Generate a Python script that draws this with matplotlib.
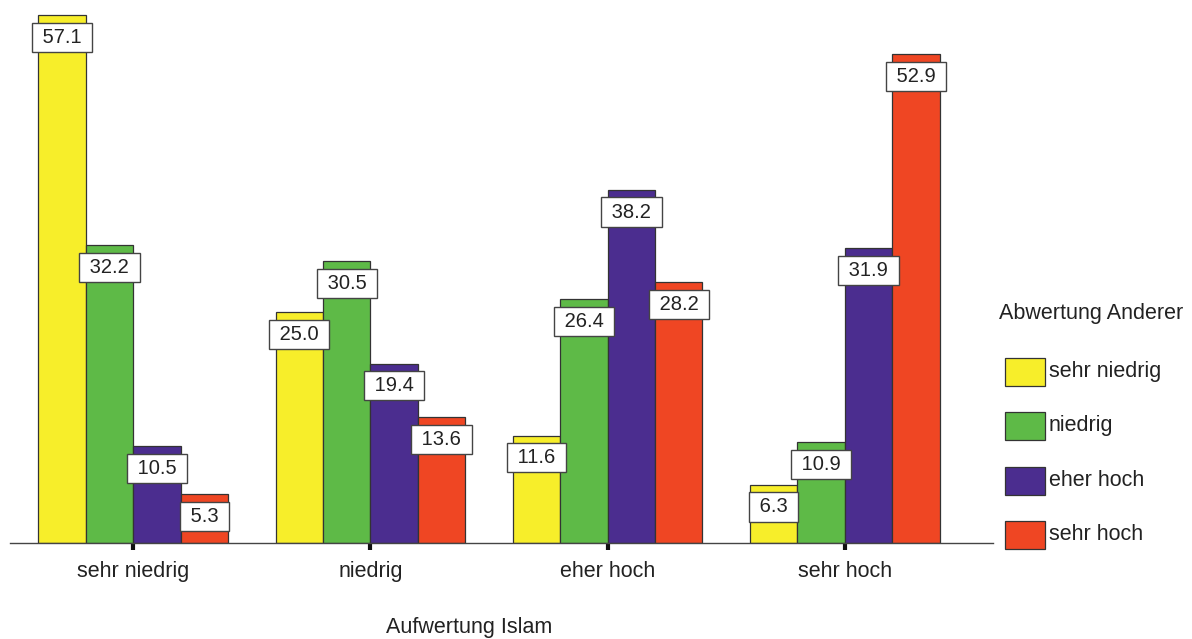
# Aufwertung Islam vs. Abwertung Anderer - grouped bars with value boxes

import matplotlib.pyplot as plt
from matplotlib.patches import Rectangle
import numpy as np

plt.rcParams['font.family'] = ['Liberation Sans', 'DejaVu Sans']

# Data
groups = ["sehr niedrig", "niedrig", "eher hoch", "sehr hoch"]
series_names = ["sehr niedrig", "niedrig", "eher hoch", "sehr hoch"]
sehr_niedrig = [57.1, 25.0, 11.6, 6.3]
niedrig = [32.2, 30.5, 26.4, 10.9]
eher_hoch = [10.5, 19.4, 38.2, 31.9]
sehr_hoch = [5.3, 13.6, 28.2, 52.9]
colors = ["#F7EE2A", "#5EBA47", "#4B2D8F", "#EF4623"]

W, H = 1192, 639
fig = plt.figure(figsize=(W / 100, H / 100), dpi=100)
ax = fig.add_axes([10 / W, 1 - 543 / H, (993 - 10) / W, (543 - 6.7) / H])

x = np.arange(len(groups))
width = 0.2
all_series = [sehr_niedrig, niedrig, eher_hoch, sehr_hoch]
for i, (vals, col) in enumerate(zip(all_series, colors)):
    pos = x + (i - 1.5) * width
    ax.bar(pos, vals, width, color=col, edgecolor="#333333", linewidth=0.9, zorder=2)
    for px, v in zip(pos, vals):
        ax.annotate(f" {v:.1f} ", (px, v), xytext=(0, -16), textcoords="offset points",
                    ha="center", va="center", fontsize=14.5, color="#222222", zorder=4,
                    bbox=dict(boxstyle="square,pad=0.25", fc="white", ec="#444444", lw=1))

ax.set_xlim(-0.52, 3.625)
ax.set_ylim(0, 58)
ax.set_xticks(x)
ax.set_xticklabels(groups, fontsize=15.5, color="#222222")
ax.tick_params(axis="x", direction="out", length=5, width=3, color="#111111", pad=8)
ax.set_yticks([])
for s in ["top", "right", "left"]:
    ax.spines[s].set_visible(False)
ax.spines["bottom"].set_color("#444444")
ax.spines["bottom"].set_linewidth(1)

fig.text(469 / W, 1 / H, "Aufwertung Islam", ha="center", va="bottom",
         fontsize=15.5, color="#222222")

# Legend
fig.text(999 / W, 1 - 313 / H, "Abwertung Anderer", ha="left", va="center",
         fontsize=15.5, color="#222222")
legend_y = [372, 426, 481, 535]
for name, col, yc in zip(series_names, colors, legend_y):
    fig.patches.append(Rectangle((1005 / W, 1 - (yc + 14) / H), 40 / W, 28 / H,
                                 transform=fig.transFigure, fc=col, ec="#333333", lw=0.9))
    fig.text(1049 / W, 1 - yc / H, name, ha="left", va="center", fontsize=15.5,
             color="#222222")

plt.savefig("out.png", dpi=100)
